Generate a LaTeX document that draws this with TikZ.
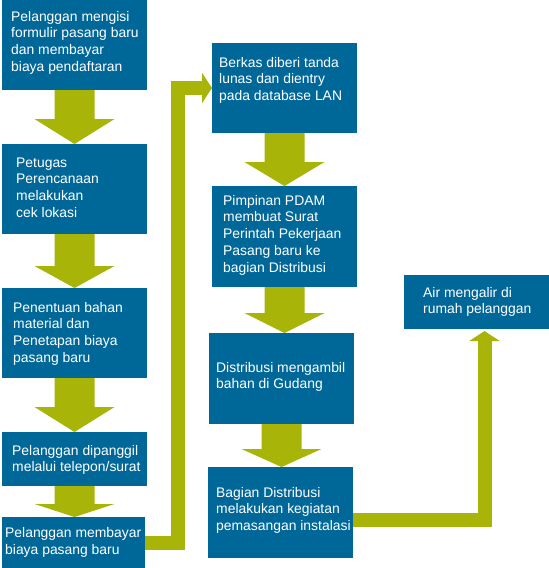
\documentclass[tikz,border=0pt]{standalone}
\usepackage{fontspec}
\setmainfont{Liberation Sans}
\usetikzlibrary{calc,arrows.meta}
\definecolor{boxblue}{RGB}{0,104,153}
\definecolor{arrowgreen}{RGB}{168,181,8}
\newcommand\blockarrow[3]{%
  \coordinate (tip#1) at (#1.south |- #2.north);
  \fill[arrowgreen] ($(#1.south)+(-20,0)$) -- ($(#1.south)+(20,0)$)
    -- ($(tip#1)+(20,-#3)$) -- ($(tip#1)+(40,-#3)$) -- (tip#1)
    -- ($(tip#1)+(-40,-#3)$) -- ($(tip#1)+(-20,-#3)$) -- cycle;}
\begin{document}
\begin{tikzpicture}[x=1pt,y=-1pt,
  stepbox/.style={rectangle, fill=boxblue, inner sep=0pt, outer sep=0pt},
  steptext/.style={anchor=base west, inner sep=0pt, align=left, text=white,
    font=\fontsize{13.9}{16.8}\selectfont},
  elbow/.style={draw=arrowgreen, line width=14pt, line join=miter,
    -{Triangle[width=30pt,length=10pt]}},
]
\useasboundingbox (0,0) rectangle (549,568);

% left column
\node[stepbox, minimum width=145pt, minimum height=90pt] (b1) at (74.5,45) {};
\node[stepbox, minimum width=145pt, minimum height=90pt] (b2) at (74.5,189) {};
\node[stepbox, minimum width=145pt, minimum height=90pt] (b3) at (74.5,333) {};
\node[stepbox, minimum width=145pt, minimum height=54pt] (b4) at (74.5,459) {};
\node[stepbox, minimum width=143pt, minimum height=51pt] (b5) at (73.5,542.5) {};
% middle column
\node[stepbox, minimum width=145pt, minimum height=90pt] (b6) at (284.5,88) {};
\node[stepbox, minimum width=145pt, minimum height=101pt] (b7) at (284.5,236.5) {};
\node[stepbox, minimum width=145pt, minimum height=91pt] (b8) at (281.5,378.5) {};
\node[stepbox, minimum width=145pt, minimum height=91pt] (b9) at (280.5,512.5) {};
% right
\node[stepbox, minimum width=145pt, minimum height=54pt] (b10) at (476.5,302) {};

% texts (anchored at the baseline of the last line)
\node[steptext] (t1) at (11,71.4) {Pelanggan mengisi\\formulir pasang baru\\dan membayar\\biaya pendaftaran};
\node[steptext] (t2) at (16,217.4) {Petugas\\Perencanaan\\melakukan\\cek lokasi};
\node[steptext] (t3) at (13,362.4) {Penentuan bahan\\material dan\\Penetapan biaya\\pasang baru};
\node[steptext] (t4) at (12,471.8) {Pelanggan dipanggil\\melalui telepon/surat};
\node[steptext] (t5) at (5,554) {Pelanggan membayar\\biaya pasang baru};
\node[steptext] (t6) at (219,100.6) {Berkas diberi tanda\\lunas dan dientry\\pada database LAN};
\node[steptext] (t7) at (223,272.2) {Pimpinan PDAM\\membuat Surat\\Perintah Pekerjaan\\Pasang baru ke\\bagian Distribusi};
\node[steptext] (t8) at (216,388.8) {Distribusi mengambil\\bahan di Gudang};
\node[steptext] (t9) at (216,530.6) {Bagian Distribusi\\melakukan kegiatan\\pemasangan instalasi};
\node[steptext] (t10) at (423,313.8) {Air mengalir di\\rumah pelanggan};

% block arrows
\blockarrow{b1}{b2}{25}
\blockarrow{b2}{b3}{22}
\blockarrow{b3}{b4}{25}
\blockarrow{b4}{b5}{13}
\blockarrow{b6}{b7}{24}
\blockarrow{b7}{b8}{20}
\blockarrow{b8}{b9}{18}

% elbow connectors
\draw[elbow] (b5.east) -- ++(32.5,0) |- (b6.west);
\coordinate (c9) at ($(b9.east)+(0,7)$);
\coordinate (c10) at ($(b10.south)+(8,2)$);
\draw[elbow] (c9) -| (c10);
\end{tikzpicture}
\end{document}
